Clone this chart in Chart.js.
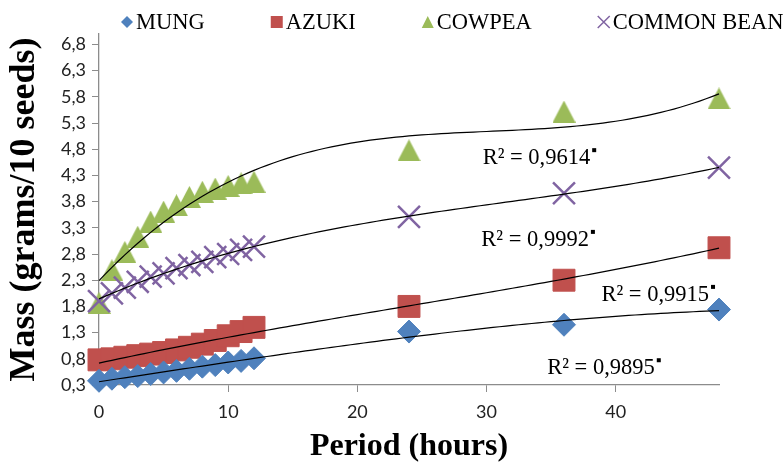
<!DOCTYPE html>
<html>
<head>
<meta charset="utf-8">
<script src="https://cdn.jsdelivr.net/npm/chart.js"></script>
<style>
  html, body { margin: 0; padding: 0; background: #fff; }
  #wrap { width: 783px; height: 464px; }
</style>
</head>
<body>
<div id="wrap"><canvas id="myChart" width="783" height="464"></canvas></div>
<script>
// hours after soaking
const hours = [0, 1, 2, 3, 4, 5, 6, 7, 8, 9, 10, 11, 12, 24, 36, 48];

// mass (g / 10 seeds)
const mung   = [0.38, 0.42, 0.45, 0.47, 0.51, 0.54, 0.57, 0.61, 0.65, 0.68, 0.73, 0.76, 0.81, 1.32, 1.45, 1.74];
const azuki  = [0.78, 0.80, 0.83, 0.86, 0.89, 0.92, 0.97, 1.02, 1.08, 1.15, 1.24, 1.32, 1.40, 1.80, 2.30, 2.92];
const cowpea = [1.87, 2.49, 2.84, 3.13, 3.42, 3.61, 3.73, 3.89, 3.99, 4.05, 4.10, 4.15, 4.18, 4.78, 5.52, 5.77];
const bean   = [1.90, 2.05, 2.16, 2.27, 2.37, 2.43, 2.53, 2.59, 2.65, 2.74, 2.80, 2.88, 2.94, 3.51, 3.96, 4.45];

const seriesNames = ['MUNG', 'AZUKI', 'COWPEA', 'COMMON BEAN'];
const xTicks = [0, 10, 20, 30, 40];
const yTicks = [0.3, 0.8, 1.3, 1.8, 2.3, 2.8, 3.3, 3.8, 4.3, 4.8, 5.3, 5.8, 6.3, 6.8];

// trendline R² labels, anchored in data units
const r2Text = ['R² = 0,9895', 'R² = 0,9915', 'R² = 0,9614', 'R² = 0,9992'];
const r2At = [
    { x: 34.7, y: 0.62 },
    { x: 38.9, y: 2.02 },
    { x: 29.7, y: 4.63 },
    { x: 29.6, y: 3.07 }
];

const colors = ['#4F81BD', '#C0504D', '#9BBB59', '#8064A2'];
const serif = 'Liberation Serif, Times New Roman, serif';

const toPoints = (ys) => hours.map((h, i) => ({ x: h, y: ys[i] }));

// least squares polynomial, like the Excel trendline
const polyFit = (xs, ys, deg) => {
    const n = deg + 1;
    const A = [];
    for (let r = 0; r < n; r++) {
        A.push([]);
        for (let c = 0; c <= n; c++) A[r].push(0);
    }
    xs.forEach((x, k) => {
        for (let r = 0; r < n; r++) {
            for (let c = 0; c < n; c++) A[r][c] += Math.pow(x, r + c);
            A[r][n] += ys[k] * Math.pow(x, r);
        }
    });
    for (let i = 0; i < n; i++) {
        let p = i;
        for (let r = i + 1; r < n; r++) if (Math.abs(A[r][i]) > Math.abs(A[p][i])) p = r;
        [A[i], A[p]] = [A[p], A[i]];
        for (let r = 0; r < n; r++) {
            if (r === i) continue;
            const f = A[r][i] / A[i][i];
            for (let c = i; c <= n; c++) A[r][c] -= f * A[i][c];
        }
    }
    return A.map((row, i) => row[n] / A[i][i]);
};

const trend = (ys) => {
    const coef = polyFit(hours, ys, 3);
    const pts = [];
    for (let x = 0; x <= 48; x += 0.5) {
        pts.push({ x: x, y: coef.reduce((s, c, i) => s + c * Math.pow(x, i), 0) });
    }
    return pts;
};

// excel style triangle, centred on its box
const tri = document.createElement('canvas');
tri.width = 23;
tri.height = 22;
{
    const t = tri.getContext('2d');
    t.fillStyle = colors[2];
    t.beginPath();
    t.moveTo(11.5, 0);
    t.lineTo(23, 22);
    t.lineTo(0, 22);
    t.closePath();
    t.fill();
}

const marker = (c, style, x, y, r, color) => {
    c.save();
    c.fillStyle = color;
    c.strokeStyle = color;
    c.beginPath();
    if (style === 'diamond') {
        c.moveTo(x, y - r); c.lineTo(x + r, y); c.lineTo(x, y + r); c.lineTo(x - r, y);
        c.closePath(); c.fill();
    } else if (style === 'square') {
        c.fillRect(x - r, y - r, 2 * r, 2 * r);
    } else if (style === 'triangle') {
        c.moveTo(x, y - r); c.lineTo(x + r, y + r); c.lineTo(x - r, y + r);
        c.closePath(); c.fill();
    } else {
        c.lineWidth = 1.5;
        c.moveTo(x - r, y - r); c.lineTo(x + r, y + r);
        c.moveTo(x + r, y - r); c.lineTo(x - r, y + r);
        c.stroke();
    }
    c.restore();
};

const legendRow = {
    id: 'legendRow',
    afterDraw(chart) {
        const c = chart.ctx;
        const styles = ['diamond', 'square', 'triangle', 'cross'];
        c.save();
        c.font = '22.5px ' + serif;
        c.fillStyle = '#000';
        c.textBaseline = 'middle';
        let x = 127;
        const y = 22;
        seriesNames.forEach((name, i) => {
            marker(c, styles[i], x, y, 6, colors[i]);
            c.fillText(name, x + 9, y + 1);
            x += 9 + c.measureText(name).width + 72;
        });
        c.restore();
    }
};

const r2Labels = {
    id: 'r2Labels',
    afterDatasetsDraw(chart) {
        const c = chart.ctx;
        const xs = chart.scales.x;
        const ys = chart.scales.y;
        c.save();
        c.font = '22.5px ' + serif;
        c.fillStyle = '#000';
        c.textBaseline = 'middle';
        r2Text.forEach((t, i) => {
            const px = xs.getPixelForValue(r2At[i].x);
            const py = ys.getPixelForValue(r2At[i].y);
            c.fillText(t, px, py);
            const w = c.measureText(t).width;
            c.fillRect(px + w + 2, py - 10, 4, 4);
        });
        c.restore();
    }
};

const dataSets = [
    { label: seriesNames[0], data: toPoints(mung), pointStyle: 'rectRot', pointRadius: 11.5, order: 1 },
    { label: seriesNames[1], data: toPoints(azuki), pointStyle: 'rect', pointRadius: 15.5, order: 2 },
    { label: seriesNames[2], data: toPoints(cowpea), pointStyle: tri, pointRadius: 12, order: 4 },
    { label: seriesNames[3], data: toPoints(bean), pointStyle: 'crossRot', pointRadius: 15.5, pointBorderWidth: 2.5, order: 3 }
].map((d, i) => Object.assign({
    backgroundColor: colors[i],
    borderColor: colors[i],
    pointBackgroundColor: colors[i],
    pointBorderColor: colors[i],
    pointBorderWidth: 1,
    pointHoverRadius: d.pointRadius,
    showLine: false,
    clip: false
}, d));

const trendSets = [mung, azuki, cowpea, bean].map((ys, i) => ({
    label: 'trend ' + seriesNames[i],
    data: trend(ys),
    showLine: true,
    borderColor: '#000',
    borderWidth: 1.2,
    pointRadius: 0,
    pointHoverRadius: 0,
    fill: false,
    clip: false,
    order: 0
}));

const ctx = document.getElementById('myChart');

const massChart = new Chart(ctx, {
    type: 'scatter',
    data: { datasets: dataSets.concat(trendSets) },
    plugins: [legendRow, r2Labels],
    options: {
        responsive: false,
        animation: false,
        layout: { padding: { top: 34, right: 64, left: 0, bottom: 0 } },
        plugins: {
            legend: { display: false },
            tooltip: { enabled: false }
        },
        scales: {
            x: {
                type: 'linear',
                min: 0,
                max: 48,
                afterBuildTicks: (s) => { s.ticks = xTicks.map(v => ({ value: v })); },
                afterFit: (s) => { s.height = 79; },
                grid: { drawOnChartArea: false, drawTicks: true, tickLength: 7, color: '#8c8c8c' },
                border: { display: true, color: '#8c8c8c', width: 1.3 },
                ticks: {
                    color: '#222',
                    padding: 9,
                    font: { family: 'Lato, Liberation Sans, sans-serif', size: 18 }
                },
                title: {
                    display: true,
                    text: 'Period (hours)',
                    color: '#000',
                    padding: { top: 0, bottom: 0 },
                    font: { family: serif, size: 32, weight: 'bold', lineHeight: 1.1 }
                }
            },
            y: {
                min: 0.3,
                max: 7.0,
                afterBuildTicks: (s) => { s.ticks = yTicks.map(v => ({ value: v })); },
                afterFit: (s) => { s.width = 99; },
                grid: { drawOnChartArea: false, drawTicks: true, tickLength: 7, color: '#8c8c8c' },
                border: { display: true, color: '#8c8c8c', width: 1.3 },
                ticks: {
                    color: '#222',
                    padding: 6,
                    font: { family: 'Lato, Liberation Sans, sans-serif', size: 18 },
                    callback: (v) => v.toFixed(1).replace('.', ',')
                },
                title: {
                    display: true,
                    text: 'Mass (grams/10 seeds)',
                    color: '#000',
                    padding: { top: 3, bottom: 0 },
                    font: { family: serif, size: 36, weight: 'bold', lineHeight: 1.2 }
                }
            }
        }
    }
});
</script>
</body>
</html>
